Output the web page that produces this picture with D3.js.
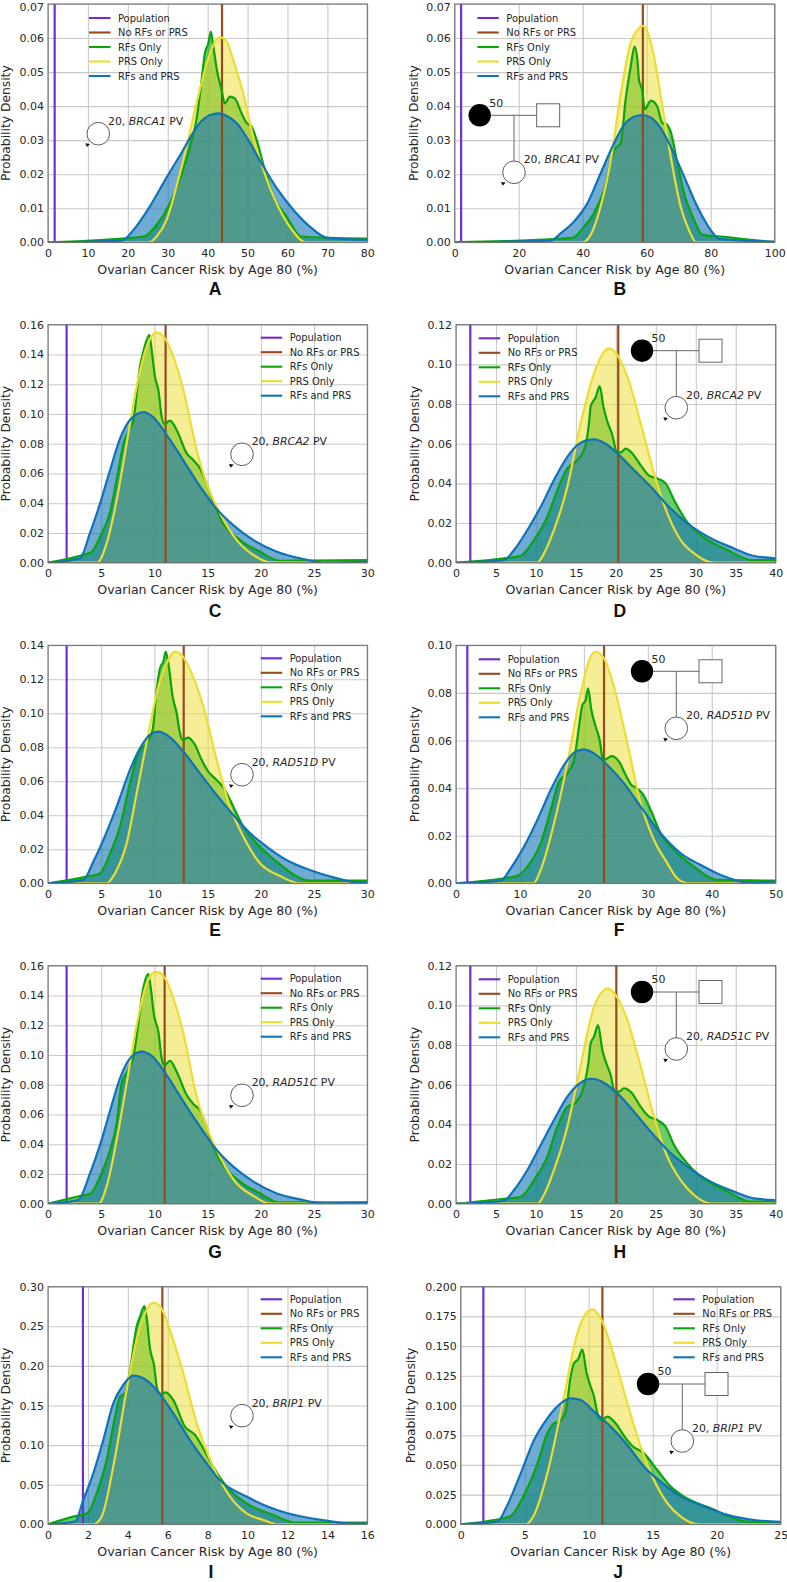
<!DOCTYPE html>
<html><head><meta charset="utf-8">
<script src="https://cdn.jsdelivr.net/npm/d3@7/dist/d3.min.js"></script>
<style>html,body{margin:0;padding:0;background:#fff}svg{display:block}text{font-family:"DejaVu Sans",sans-serif;fill:#262626}</style>
</head><body><svg id="c" width="787" height="1582"></svg>
<script>
const seriesNames=["Population","No RFs or PRS","RFs Only","PRS Only","RFs and PRS"];
const seriesColors=["#7030c8","#964b1e","#0aa50a","#ecdd30","#1073b8"];
const xLabel="Ovarian Cancer Risk by Age 80 (%)", yLabel="Probability Density";

// [risk %, density]
const rfsA=[[0,0],[24,.0017],[27.2,.0051],[30.6,.0115],[33.5,.020],[35.8,.029],[37.2,.036],[38.5,.0477],[39.3,.0555],[40.2,.0585],[40.8,.0619],[41.3,.0585],[42.3,.0507],[43.5,.0447],[44.3,.0408],[45.6,.0428],[46.8,.0423],[48.5,.0379],[49.8,.035],[51,.034],[52.3,.030],[54,.0227],[56.5,.0134],[59.8,.0075],[63.4,.0017],[80,.0011]];
const prsA=[[0,0],[25.4,0],[27.2,.0017],[29.7,.0066],[32.2,.0164],[34.7,.0281],[37.2,.0408],[39.8,.0526],[41.8,.0589],[43.2,.0602],[44.8,.0589],[46.4,.0536],[48.9,.0438],[51.4,.031],[54,.0212],[56.5,.0134],[59,.0075],[61.5,.0031],[64.4,0],[80,0]];
const bothA=[[0,0],[18.5,.0005],[21.4,.0036],[25.5,.0105],[29.7,.0190],[33.9,.0272],[36,.0315],[38,.035],[40.6,.0374],[42.7,.0379],[44.8,.0371],[47.3,.035],[50.2,.030],[53.5,.0232],[57.3,.0159],[61.5,.0095],[65.6,.0046],[70.2,.0012],[80,.0007]];

const rfsB=[[0,0],[36.8,.0013],[40.4,.0046],[43.5,.0085],[46.7,.0154],[49.8,.0271],[51.9,.0291],[53.4,.0418],[55,.0516],[56.2,.0575],[57.1,.0536],[57.6,.0477],[58.6,.0447],[59.4,.0391],[61.3,.0416],[63.3,.0399],[64.9,.035],[66,.0348],[67.5,.0325],[69.6,.0232],[71.7,.0144],[74.8,.0066],[77.4,.0022],[83.1,.0017],[100,0]];
const prsB=[[0,0],[39.9,0],[42.5,.0022],[45.6,.0105],[48.8,.0242],[51.9,.0438],[55,.0585],[57.6,.0629],[58.6,.0636],[60.2,.0619],[62.3,.0546],[64.4,.0428],[67.5,.0252],[70.6,.0105],[73.2,.0036],[75.5,0],[100,0]];
const bothB=[[0,0],[30,.0005],[33.1,.0026],[37.3,.0061],[41.5,.0115],[45.6,.0203],[49.8,.0291],[52.9,.0345],[56,.0369],[58.6,.0374],[61.2,.0367],[64.4,.0335],[67.5,.0281],[71.7,.0193],[75.8,.0105],[80,.0036],[82.6,.001],[100,.0002]];

const rfsC=[[0,0],[3,.0047],[4.1,.0072],[4.9,.0175],[5.8,.0332],[6.45,.0556],[7.1,.0802],[7.55,.0881],[8.02,.0959],[8.64,.1318],[8.96,.1419],[9.52,.1531],[9.74,.143],[10.05,.1251],[10.37,.1161],[10.68,.0982],[10.93,.0932],[11.46,.0955],[12.09,.0892],[13.03,.0735],[13.65,.069],[14.28,.0634],[14.9,.0533],[15.53,.041],[16.47,.0264],[18.04,.0152],[19.9,.0074],[21.8,.0013],[30,.0018]];
const prsC=[[0,0],[4.6,0],[5.51,.013],[6.45,.0421],[7.39,.0802],[8.33,.1183],[9.27,.1452],[10.21,.1549],[10.99,.1508],[11.78,.1385],[12.72,.1161],[13.97,.0758],[14.9,.0533],[16.16,.0332],[17.73,.0152],[19.3,.0052],[20.86,.0002],[26.2,0],[30,0]];
const bothC=[[0,0],[3,.0029],[3.95,.020],[4.9,.040],[5.8,.0615],[6.8,.084],[7.7,.0959],[9,.1013],[9.9,.0977],[11.1,.0865],[12.7,.069],[14.3,.0511],[15.8,.0365],[17.4,.0253],[19.3,.0152],[21.5,.0074],[23.7,.0029],[26.2,0],[30,.0007]];

const rfsD=[[0,0],[6,.0022],[8.09,.0035],[9.76,.0114],[11.43,.0232],[12.68,.0366],[13.93,.0476],[14.97,.0509],[16.02,.0568],[16.64,.0703],[16.85,.0787],[17.48,.0834],[17.98,.0891],[18.44,.0787],[18.94,.0711],[19.56,.0644],[20.1,.056],[20.6,.0556],[21.23,.0575],[22.06,.0551],[23.1,.0492],[24.15,.0439],[25.19,.0425],[26.24,.04],[27.28,.0316],[28.74,.0215],[30.62,.0139],[33.95,.0064],[37.08,.0013],[40,.0013]];
const prsD=[[0,0],[10.18,0],[11.01,.0047],[12.26,.0165],[13.93,.0383],[15.6,.0703],[17.27,.0955],[18.52,.1064],[19.14,.1081],[20.19,.1047],[21.44,.0938],[23.11,.0703],[24.78,.045],[26.44,.0249],[28.11,.0114],[29.78,.0047],[32.28,0],[40,0]];
const bothD=[[0,0],[6,.0013],[7.26,.0064],[8.93,.0165],[10.6,.0282],[12.26,.0417],[13.93,.0534],[15.18,.0593],[16.43,.0618],[17.27,.0622],[18.52,.0605],[20.19,.0551],[22.27,.0467],[24.36,.0383],[26.44,.029],[28.95,.0198],[31.87,.0123],[34.79,.0072],[37.29,.0034],[40,.0022]];

const rfsE=[[0,0],[3.32,.0035],[4.89,.0059],[5.83,.0176],[6.76,.0333],[7.7,.0588],[8.49,.0765],[9.27,.0824],[9.83,.0902],[10.21,.1137],[10.52,.1265],[10.84,.1304],[11.06,.1363],[11.31,.1294],[11.71,.1098],[12.09,.1],[12.4,.0882],[12.65,.0843],[13.18,.0857],[13.81,.0814],[14.44,.0725],[15.06,.0657],[15.85,.0608],[16.63,.0549],[17.41,.0451],[18.35,.0333],[19.6,.0235],[21.48,.0127],[24.62,.0016],[30,.0016]];
const prsE=[[0,0],[5.51,0],[6.3,.0059],[7.39,.0235],[8.33,.0529],[9.43,.0882],[10.37,.1157],[11.15,.1294],[11.93,.1363],[12.56,.1343],[13.5,.1235],[14.6,.1039],[15.85,.0725],[17.1,.0451],[18.35,.0275],[19.92,.0118],[21.8,.0043],[23.68,0],[30,0]];
const bothE=[[0,0],[3.32,.002],[4.26,.0127],[5.2,.0255],[6.45,.0451],[7.7,.0667],[8.64,.0794],[9.58,.0873],[10.37,.0892],[11.46,.0859],[12.72,.0775],[14.28,.0647],[15.85,.052],[17.41,.0402],[19,.0294],[20.54,.0216],[22.4,.0137],[24.6,.0078],[26.8,.0035],[29.3,.0004],[30,.0006]];

const rfsF=[[0,0],[9.6,.0031],[11.16,.007],[13.24,.0168],[14.81,.0308],[16.11,.0427],[17.41,.0462],[18.46,.0518],[19.24,.0658],[19.76,.0749],[20.28,.077],[20.65,.0819],[21.17,.0728],[21.85,.0658],[22.47,.0602],[23,.0518],[23.67,.0525],[24.3,.0534],[25.5,.0511],[26.54,.0455],[27.42,.0413],[28.1,.0403],[29.15,.0378],[30.45,.0308],[32,.021],[34.1,.014],[37.2,.007],[40.88,.0014],[50,.0011]];
const prsF=[[0,0],[12.1,0],[13.24,.0056],[15.33,.0252],[17.41,.0504],[19.5,.0798],[21.06,.0952],[21.85,.0973],[23.15,.0945],[24.7,.0826],[26.8,.0588],[28.88,.0336],[30.97,.0182],[33.06,.0084],[34.6,.0021],[36.44,0],[50,0]];
const bothF=[[0,0],[7,.0011],[8.55,.0063],[10.64,.0154],[12.72,.0266],[14.81,.0392],[16.89,.0497],[18.46,.0549],[19.92,.0563],[21.58,.0546],[23.67,.0497],[26.28,.042],[28.88,.0322],[32,.021],[35.14,.0126],[38.27,.0077],[41.4,.0035],[45.57,.0004],[50,.0007]];

const rfsG=[[0,0],[3,.0052],[4.01,.0069],[4.89,.0182],[5.83,.0361],[6.45,.054],[6.92,.0809],[7.55,.0899],[8.02,.0988],[8.49,.1212],[8.89,.1425],[9.42,.1544],[9.64,.1459],[9.96,.1268],[10.37,.1156],[10.68,.0977],[10.93,.0932],[11.46,.0961],[12.09,.0887],[13.03,.0731],[13.75,.0663],[14.28,.063],[14.9,.0518],[15.53,.0383],[16.47,.026],[18.04,.0148],[19.92,.0069],[21.64,.0009],[30,.0009]];
const prsG=[[0,0],[4.73,0],[5.5,.0114],[6.45,.0428],[7.39,.0809],[8.33,.1201],[9.27,.1481],[10.15,.156],[11,.1515],[11.78,.1381],[12.72,.1145],[13.97,.0719],[14.9,.0518],[16.16,.0316],[17.72,.0137],[19.3,.0052],[20.86,0],[30,0]];
const bothG=[[0,0],[2.85,.0025],[3.95,.0204],[4.89,.0395],[5.83,.0625],[6.76,.0843],[7.7,.0977],[8.8,.1022],[9.74,.0993],[11.15,.0865],[12.72,.0686],[14.28,.0518],[15.85,.0361],[17.41,.0249],[19.3,.0148],[21.5,.0069],[23.68,.0029],[25.87,.0002],[30,.0009]];

const rfsH=[[0,0],[6,.0025],[8.09,.0035],[9.76,.0119],[11.43,.0237],[12.68,.0388],[13.93,.0489],[14.97,.0509],[15.93,.0582],[16.56,.0708],[16.85,.0808],[17.27,.0842],[17.77,.0901],[18.31,.0775],[18.73,.0716],[19.35,.0649],[19.85,.0565],[20.4,.0565],[21,.0582],[21.94,.0561],[23.1,.0489],[24.15,.0439],[25.19,.0422],[26.24,.0388],[27.28,.0296],[28.74,.0212],[30.62,.0136],[33.95,.0061],[36.87,.001],[40,.001]];
const prsH=[[0,0],[10.18,0],[11,.0044],[12.26,.017],[13.93,.0388],[15.39,.0657],[17.27,.0993],[18.31,.1069],[18.94,.1086],[19.98,.1052],[21.44,.0926],[23.11,.0691],[24.78,.0439],[26.44,.0237],[28.11,.0119],[29.78,.0044],[32.08,0],[40,0]];
const bothH=[[0,0],[6,.0015],[7.26,.0069],[8.93,.017],[10.6,.0296],[12.26,.0422],[13.93,.054],[15.18,.0598],[16.22,.0624],[17.06,.063],[18.5,.061],[20.19,.0556],[22.27,.0464],[24.36,.0363],[26.44,.0271],[28.95,.0187],[31.87,.0111],[34.79,.0061],[37.29,.0027],[40,.0018]];

const rfsI=[[0,0],[1.27,.0097],[1.97,.0139],[2.44,.0391],[2.94,.0812],[3.36,.1359],[3.61,.1611],[3.86,.1653],[4.11,.1948],[4.44,.2495],[4.61,.2621],[4.83,.2756],[4.94,.2621],[5.11,.2221],[5.31,.2011],[5.48,.1695],[5.65,.1645],[5.9,.1666],[6.28,.1569],[6.86,.1233],[7.37,.1128],[7.78,.0959],[8.28,.0728],[8.95,.0475],[9.95,.0265],[11.29,.0118],[12.38,.0021],[16,.0021]];
const prsI=[[0,0],[2.27,0],[2.69,.0097],[3.27,.0728],[3.94,.1695],[4.44,.2326],[4.94,.2705],[5.28,.2798],[5.61,.2756],[6.11,.2453],[6.78,.1906],[7.45,.1275],[8.28,.0728],[9.12,.0349],[9.95,.0139],[10.79,.0055],[11.54,0],[16,0]];
const bothI=[[0,0],[1.35,.0034],[1.77,.0307],[2.27,.0644],[2.77,.1064],[3.27,.1527],[3.77,.1759],[4.28,.1876],[4.78,.1843],[5.44,.1695],[6.28,.1401],[7.11,.1064],[7.95,.077],[8.6,.056],[9.95,.035],[11,.0225],[12,.0139],[13.96,.0046],[15.13,.0008],[16,.0013]];

const rfsJ=[[0,0],[2.6,.0036],[3.91,.007],[4.95,.0247],[6,.0513],[6.77,.0766],[7.29,.085],[7.73,.0867],[8.2,.0948],[8.59,.1243],[8.85,.1355],[9.17,.1389],[9.5,.147],[9.84,.1271],[10.16,.1158],[10.42,.1074],[10.68,.0934],[10.99,.0878],[11.46,.0906],[12.1,.085],[12.89,.0724],[13.41,.0659],[14.32,.0597],[15.36,.0457],[16.41,.0317],[17.45,.0233],[19.53,.0135],[22.4,.0022],[25,.0014]];
const prsJ=[[0,0],[5.08,0],[5.73,.0079],[6.77,.0429],[8.07,.1074],[9.11,.1607],[9.9,.179],[10.29,.1809],[11.07,.1705],[11.98,.1411],[13.02,.1018],[14.06,.0654],[15.1,.0373],[16.15,.0177],[17.19,.0065],[18.62,0],[25,0]];
const bothJ=[[0,0],[2.86,.0022],[3.65,.0163],[4.69,.0429],[5.73,.071],[6.77,.0892],[7.81,.1018],[8.59,.106],[9.38,.1046],[10.42,.0948],[11.72,.0822],[13.02,.0668],[14.32,.0485],[15.63,.0359],[17.19,.0233],[18.75,.0163],[20.83,.0079],[22.92,.0036],[25,.002]];

const panelLetters=["A","B","C","D","E","F","G","H","I","J"];
const genes=["BRCA1","BRCA1","BRCA2","BRCA2","RAD51D","RAD51D","RAD51C","RAD51C","BRIP1","BRIP1"];
const xMaxes=[80,100,30,40,30,50,30,40,16,25];
const yMaxes=[.07,.07,.16,.12,.14,.10,.16,.12,.30,.20];
const xSteps=[10,20,5,5,5,10,5,5,2,5];
const ySteps=[.01,.01,.02,.02,.02,.02,.02,.02,.05,.025];
const populationRisk=[1.67,2,1.75,1.79,1.75,1.77,1.75,1.79,1.75,1.77];
const noFactorRisk=[43.6,58.8,11.05,20.3,12.75,23.15,10.96,20.06,5.73,11.07];
const rfsAll=[rfsA,rfsB,rfsC,rfsD,rfsE,rfsF,rfsG,rfsH,rfsI,rfsJ];
const prsAll=[prsA,prsB,prsC,prsD,prsE,prsF,prsG,prsH,prsI,prsJ];
const bothAll=[bothA,bothB,bothC,bothD,bothE,bothF,bothG,bothH,bothI,bothJ];

// layout: axes box [left,right,top,bottom], legend [lineX,y0], letter [x,y]
const boxes=[[48,367.3,4,242.3],[454.7,774.7,4,242.3],[48,367.3,324.7,562.7],[456,775.7,324.7,562.7],[48,367.3,645.3,883.3],[456,775.7,645.3,883.3],[48,367.3,965.7,1203.7],[456,775.7,965.7,1203.7],[48,367.3,1286.7,1524.3],[460.7,780.7,1286.7,1524.3]];
const legends=[[89,18],[477.3,18],[260.7,337.7],[478.7,338.3],[260.7,658.3],[478.7,659.3],[260.7,978.7],[478.7,979.3],[260.7,1299.3],[673.3,1299.3]];
const letters=[[215,289],[619.7,289],[215,610.7],[619.7,610.7],[215,930],[619,930],[215,1251.7],[619.7,1251.7],[211,1571.5],[618,1571.5]];
const yLabelX=[5,413.3,5,414,5,414,5,414,5,410.7];
// daughter circle centre, and (if family shown) mother centre
const daughters=[[98.3,133.7],[514,172.3],[242,454.3],[676.3,407.7],[242,774.7],[676.3,728.3],[242,1095.3],[676.3,1049],[242,1415.7],[682.3,1441]];
const mothers=[null,[479.7,115.3],null,[642,350.7],null,[642,671.3],null,[642,992],null,[648,1384]];

const svg=d3.select("#c");
panelLetters.forEach((letter,i)=>{
  const [l,r,t,b]=boxes[i];
  const x=d3.scaleLinear().domain([0,xMaxes[i]]).range([l,r]);
  const y=d3.scaleLinear().domain([0,yMaxes[i]]).range([b,t]);
  const g=svg.append("g");
  const xt=d3.range(0,xMaxes[i]+1e-9,xSteps[i]);
  const yt=d3.range(0,yMaxes[i]+1e-9,ySteps[i]);
  const clipId="clip"+letter;
  svg.append("clipPath").attr("id",clipId).append("rect").attr("x",l).attr("y",t).attr("width",r-l).attr("height",b-t);

  // grid
  g.append("g").attr("transform",`translate(0,${b})`).call(d3.axisBottom(x).tickValues(xt).tickSize(t-b).tickFormat(""))
    .call(s=>{s.select(".domain").remove();s.selectAll("line").attr("stroke","#c9c9c9").attr("stroke-width",1.1)});
  g.append("g").attr("transform",`translate(${l},0)`).call(d3.axisLeft(y).tickValues(yt).tickSize(l-r).tickFormat(""))
    .call(s=>{s.select(".domain").remove();s.selectAll("line").attr("stroke","#c9c9c9").attr("stroke-width",1.1)});

  const plot=g.append("g").attr("clip-path",`url(#${clipId})`);
  const area=d3.area().x(d=>x(d[0])).y0(b).y1(d=>y(d[1])).curve(d3.curveMonotoneX);
  const line=d3.line().x(d=>x(d[0])).y(d=>y(d[1])).curve(d3.curveMonotoneX);
  const layers=[[rfsAll[i],2,.6],[prsAll[i],3,.5],[bothAll[i],4,.6]];
  layers.forEach(([data,c,a])=>{
    plot.append("path").attr("d",area(data)).attr("fill",seriesColors[c]).attr("fill-opacity",a);
  });
  // vertical reference lines above the fills
  [populationRisk[i],noFactorRisk[i]].forEach((v,k)=>{
    plot.append("line").attr("x1",x(v)).attr("x2",x(v)).attr("y1",t).attr("y2",b).attr("stroke",seriesColors[k]).attr("stroke-width",2.2);
  });
  layers.forEach(([data,c])=>{
    plot.append("path").attr("d",line(data)).attr("fill","none").attr("stroke",seriesColors[c]).attr("stroke-width",2.2);
  });

  // frame and axes
  g.append("rect").attr("x",l).attr("y",t).attr("width",r-l).attr("height",b-t).attr("fill","none").attr("stroke","#666").attr("stroke-width",1);
  g.append("g").attr("transform",`translate(0,${b})`)
    .call(d3.axisBottom(x).tickValues(xt).tickSize(0).tickPadding(6.5).tickFormat(d3.format("d")))
    .call(s=>{s.select(".domain").remove();s.selectAll("text").attr("font-size",11).attr("font-family","DejaVu Sans").attr("fill","#262626")});
  g.append("g").attr("transform",`translate(${l},0)`)
    .call(d3.axisLeft(y).tickValues(yt).tickSize(0).tickPadding(4).tickFormat(d3.format(i===9?".3f":".2f")))
    .call(s=>{s.select(".domain").remove();s.selectAll("text").attr("font-size",11).attr("font-family","DejaVu Sans").attr("fill","#262626")
      // the top label of the first row sits against the page edge
      .filter(d=>t<6&&d===yMaxes[i]).attr("dy","0.55em")});

  g.append("text").attr("x",(l+r)/2).attr("y",b+31.2).attr("text-anchor","middle").attr("font-size",12.55).text(xLabel);
  g.append("text").attr("transform",`translate(${yLabelX[i]+4.5},${(t+b)/2}) rotate(-90)`).attr("text-anchor","middle").attr("font-size",12.3).text(yLabel);
  g.append("text").attr("x",letters[i][0]).attr("y",letters[i][1]+6.4).attr("text-anchor","middle")
    .attr("font-size",17.5).attr("font-weight","700").style("font-family","'Liberation Sans',sans-serif").style("fill","#111").text(letter);

  // legend
  const [lx,ly]=legends[i];
  seriesNames.forEach((n,k)=>{
    const yy=ly+k*14.5;
    g.append("line").attr("x1",lx).attr("x2",lx+21.5).attr("y1",yy).attr("y2",yy).attr("stroke",seriesColors[k]).attr("stroke-width",2.1);
    g.append("text").attr("x",lx+29).attr("y",yy+3.5).attr("font-size",9.9).text(n);
  });

  // pedigree
  const [dx,dy]=daughters[i], m=mothers[i];
  const ped=g.append("g");
  if(m){
    ped.append("line").attr("x1",m[0]).attr("x2",m[0]+57).attr("y1",m[1]).attr("y2",m[1]).attr("stroke","#666").attr("stroke-width",1);
    ped.append("line").attr("x1",dx).attr("x2",dx).attr("y1",m[1]).attr("y2",dy).attr("stroke","#666").attr("stroke-width",1);
    ped.append("rect").attr("x",m[0]+57).attr("y",m[1]-11.5).attr("width",23).attr("height",23).attr("fill","#fff").attr("stroke","#555").attr("stroke-width",.9);
    ped.append("circle").attr("cx",m[0]).attr("cy",m[1]).attr("r",11.2).attr("fill","#000");
    ped.append("text").attr("x",m[0]+9.6).attr("y",m[1]-8.8).attr("font-size",10.9).text("50");
  }
  ped.append("circle").attr("cx",dx).attr("cy",dy).attr("r",11.3).attr("fill","#fff").attr("stroke","#333").attr("stroke-width",.8);
  ped.append("path").attr("d",`M${dx-13},${dy+9.6}L${dx-8.3},${dy+10.2}L${dx-11.3},${dy+13.4}Z`).attr("fill","#111");
  const lab=ped.append("text").attr("x",dx+9.7).attr("y",dy-9.2).attr("font-size",10.9);
  lab.append("tspan").text("20, ");
  lab.append("tspan").attr("font-style","italic").text(genes[i]);
  lab.append("tspan").text(" PV");
});
</script></body></html>
